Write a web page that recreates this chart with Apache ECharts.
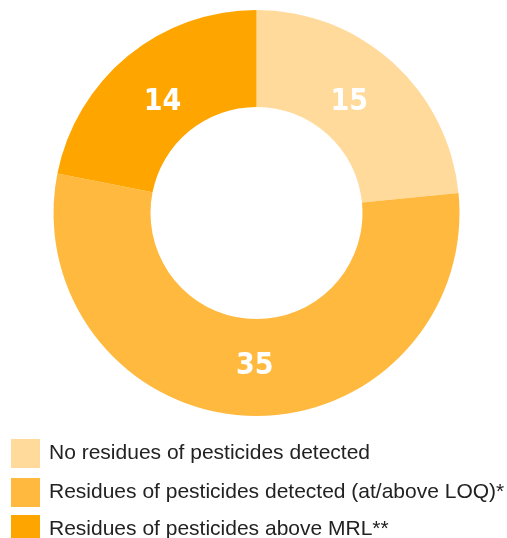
<!DOCTYPE html>
<html><head><meta charset="utf-8">
<script src="https://cdn.jsdelivr.net/npm/echarts@6/dist/echarts.min.js"></script>
<style>html,body{margin:0;padding:0;background:#fff}#c{width:507px;height:538px}</style>
</head><body><div id="c"></div>
<script>
const categories = ["No residues of pesticides detected", "Residues of pesticides detected (at/above LOQ)*", "Residues of pesticides above MRL**"];
const values = [15, 35, 14];
const colors = ["#FFDA9A", "#FFB93E", "#FFA500"];
const labelOffsets = [[-13, 6], [6, -4], [6, 11]];
const legendTops = [439, 478, 515];

const chart = echarts.init(document.getElementById('c'), null, {renderer: 'canvas'});
chart.setOption({
  animation: false,
  color: colors,
  legend: categories.map((n, i) => ({
    left: 11, top: legendTops[i], padding: 0,
    itemWidth: 29, itemHeight: 29,
    icon: 'rect',
    textStyle: {fontFamily: 'Liberation Sans', fontSize: 21, color: '#222', padding: [0, 0, 0, 4]},
    data: [n]
  })),
  series: [{
    type: 'pie',
    center: [256.5, 213],
    radius: [106, 203],
    startAngle: 90,
    clockwise: true,
    avoidLabelOverlap: false,
    label: {
      show: true, position: 'inside', formatter: '{c}',
      color: '#fff', fontFamily: '"DejaVu Sans Condensed", "Liberation Sans Narrow", sans-serif', fontWeight: 'bold', fontSize: 30
    },
    labelLine: {show: false},
    itemStyle: {borderWidth: 0},
    emphasis: {disabled: true},
    data: categories.map((n, i) => ({name: n, value: values[i], label: {offset: labelOffsets[i]}}))
  }]
});
</script></body></html>
